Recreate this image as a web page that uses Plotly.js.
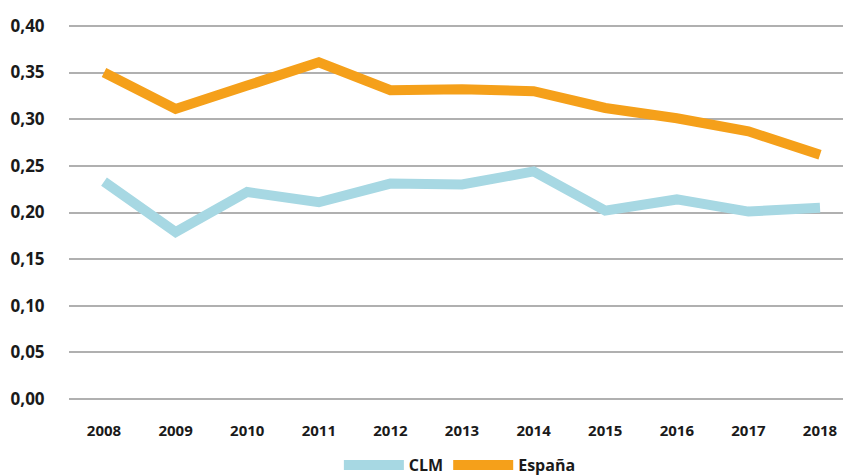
<!DOCTYPE html>
<html>
<head>
<meta charset="utf-8">
<script src="https://cdn.plot.ly/plotly-3.0.1.min.js"></script>
<style>html,body{margin:0;padding:0;background:#fff;}#chart{width:843px;height:475px;}</style>
</head>
<body>
<div id="chart"></div>
<script>
var years = [2008, 2009, 2010, 2011, 2012, 2013, 2014, 2015, 2016, 2017, 2018];
var yearLabels = ["2008","2009","2010","2011","2012","2013","2014","2015","2016","2017","2018"];
var clm = [0.233, 0.179, 0.222, 0.211, 0.231, 0.230, 0.244, 0.202, 0.214, 0.201, 0.205];
var espana = [0.350, 0.311, 0.336, 0.361, 0.331, 0.332, 0.330, 0.312, 0.301, 0.287, 0.262];
var yTickVals = [0, 0.05, 0.10, 0.15, 0.20, 0.25, 0.30, 0.35, 0.40];
var yTickLabels = ["0,00","0,05","0,10","0,15","0,20","0,25","0,30","0,35","0,40"];

var font = "'Open Sans', 'DejaVu Sans', sans-serif";
var traces = [
  {x: years, y: clm, name: "CLM", type: "scatter", mode: "lines",
   line: {color: "#a7d8e3", width: 10}},
  {x: years, y: espana, name: "España", type: "scatter", mode: "lines",
   line: {color: "#f5a01a", width: 10}}
];
var layout = {
  width: 843, height: 475,
  margin: {l: 69, r: 0, t: 24, b: 74, pad: 0, autoexpand: false},
  paper_bgcolor: "#ffffff", plot_bgcolor: "#ffffff",
  showlegend: true,
  legend: {orientation: "h", x: 0.505, xanchor: "center", y: -0.17, yanchor: "middle",
           font: {family: font, size: 16, color: "#1a1a1a", weight: 700},
           itemwidth: 60, traceorder: "normal"},
  xaxis: {type: "linear", range: [2007.511, 2018.321], tickvals: years, ticktext: yearLabels,
          showgrid: false, zeroline: false, showline: false,
          ticks: "outside", ticklen: 16, tickcolor: "rgba(0,0,0,0)",
          tickfont: {family: font, size: 15, color: "#1a1a1a", weight: 700}},
  yaxis: {range: [-0.002, 0.402], tickvals: yTickVals, ticktext: yTickLabels,
          showgrid: true, gridcolor: "#b0b0b0", gridwidth: 2, zeroline: false, showline: false,
          ticks: "outside", ticklen: 20, tickcolor: "rgba(0,0,0,0)",
          tickfont: {family: font, size: 17, color: "#1a1a1a", weight: 700}}
};
Plotly.newPlot("chart", traces, layout, {displayModeBar: false, staticPlot: true});
</script>
</body>
</html>
